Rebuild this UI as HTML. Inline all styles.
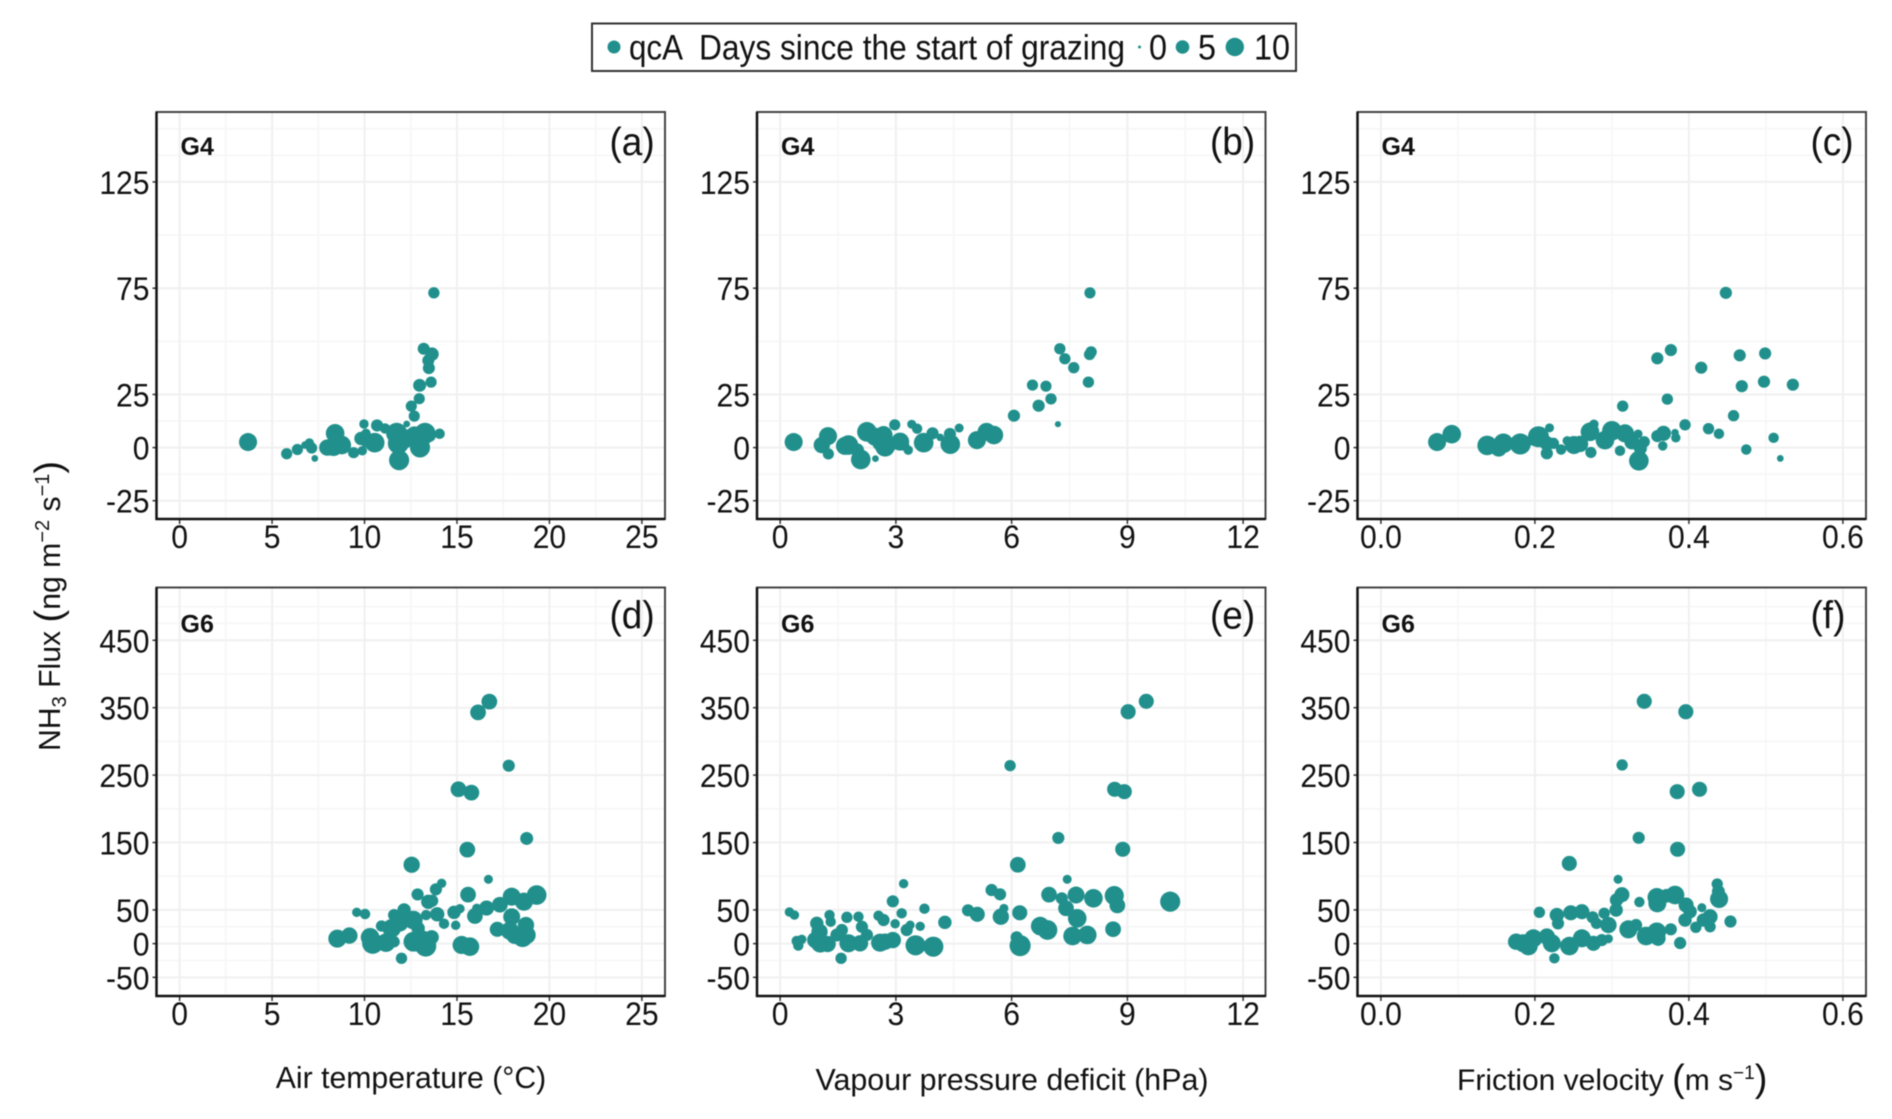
<!DOCTYPE html>
<html lang="en">
<head>
<meta charset="utf-8">
<title>NH3 flux vs. environmental drivers</title>
<style>
html,body{margin:0;padding:0;background:#fff;}
body{width:1892px;height:1119px;overflow:hidden;}
svg{display:block;font-family:"Liberation Sans",sans-serif;filter:blur(0.5px);}
text{fill:#111;}
</style>
</head>
<body>
<svg id="chart" xmlns="http://www.w3.org/2000/svg" width="1892" height="1119" viewBox="0 0 1892 1119">
  <rect x="0" y="0" width="1892" height="1119" fill="#fff"/>
  <g>
    <rect x="592" y="23.5" width="704" height="47.5" fill="#fff" stroke="#333" stroke-width="2"/>
    <circle cx="614" cy="47" r="6.5" fill="#21908c"/>
    <text x="629" y="59.5" font-size="35" textLength="54" lengthAdjust="spacingAndGlyphs">qcA</text>
    <text x="699" y="59.5" font-size="35" textLength="426" lengthAdjust="spacingAndGlyphs">Days since the start of grazing</text>
    <circle cx="1139.5" cy="47" r="1.5" fill="#21908c"/>
    <text x="1149" y="59.5" font-size="35" textLength="18" lengthAdjust="spacingAndGlyphs">0</text>
    <circle cx="1182.5" cy="47" r="6.8" fill="#21908c"/>
    <text x="1198" y="59.5" font-size="35" textLength="18" lengthAdjust="spacingAndGlyphs">5</text>
    <circle cx="1234.8" cy="47" r="9.2" fill="#21908c"/>
    <text x="1254" y="59.5" font-size="35" textLength="36" lengthAdjust="spacingAndGlyphs">10</text>
  </g>
  <text transform="translate(60,751) rotate(-90)" font-size="30.2">NH<tspan font-size="20" dy="6">3</tspan><tspan dy="-6"> Flux </tspan><tspan font-size="38" font-weight="normal" dy="1">(</tspan><tspan dy="-1">ng m</tspan><tspan font-size="20" dy="-11">−2</tspan><tspan dy="11"> s</tspan><tspan font-size="20" dy="-11">−1</tspan><tspan font-size="38" dy="12">)</tspan></text>
  <text x="411" y="1088" font-size="30.2" text-anchor="middle">Air temperature (°C)</text>
  <text x="1012" y="1090" font-size="30.4" text-anchor="middle">Vapour pressure deficit (hPa)</text>
  <text x="1457" y="1090" font-size="30">Friction velocity <tspan font-size="38" dy="1">(</tspan><tspan dy="-1">m s</tspan><tspan font-size="19" dy="-11">−1</tspan><tspan font-size="38" dy="12">)</tspan></text>
  <g id="panels"></g>
</svg>
<script>
/* tick labels */
const tempTicks = [0, 5, 10, 15, 20, 25];
const vpdTicks = [0, 3, 6, 9, 12];
const ustarTicks = [0.0, 0.2, 0.4, 0.6];
const g4Ticks = [-25, 0, 25, 75, 125];
const g6Ticks = [-50, 0, 50, 150, 250, 350, 450];
const g4Minor = [-12.5, 12.5, 50, 100, 137.5, 150];
const g6Minor = [-25, 25, 100, 200, 300, 400, 475, 500];

/* axis domains */
const tempDomain = [-1.25, 26.25];
const vpdDomain = [-0.6, 12.58];
const ustarDomain = [-0.0304, 0.63];
const g4Domain = [-33.6, 157.9];
const g6Domain = [-77.7, 528.3];

/* (a) G4 flux vs air temperature */
const aTemp = [3.7,5.79,6.37,6.78,7.02,7.14,7.31,7.99,8.41,8.32,8.77,9.41,9.88,9.97,9.81,10.08,10.12,10.55,10.68,11.11,11.74,11.83,11.87,12.28,12.46,13,13.27,13.54,14.06,12.69,12.53,12.96,12.98,13.6,13.48,13.65,13.45,13.2,13.75,12.2,12.7];
const aFlux = [2.6,-2.9,-0.9,1.2,2.3,-0.2,-5.1,0,6.7,0.4,1.2,-2.4,-1.5,11.1,4.3,6.7,3.2,2.3,10.4,9,6.7,2,-5.9,11.1,5.4,0.1,6.7,5.4,6.5,14.8,19.5,23,29.3,30.8,37.4,44,41,46.5,72.8,4,6];
const aDays = [8,2.9,2.9,1.2,1.8,2.9,0.9,6.5,8.5,8.5,8.5,2.9,2,2,4.3,2,4.3,9.5,3.5,2.5,11,11,10,0.9,5,10,11,3,2.5,2.9,2.9,2.9,4,2.9,3.4,4.3,3.4,3.4,3,8,7];

/* (b) G4 flux vs vapour pressure deficit */
const bVpd = [0.35,1.08,1.24,1.25,1.77,1.68,2.09,2,2.25,2.47,2.46,2.68,2.72,2.59,2.97,3.11,2.89,3.2,3.32,3.41,3.55,3.72,3.95,4.15,4.4,4.41,4.64,5.1,5.35,5.54,6.06,6.54,6.89,7.02,6.7,7.2,7.25,7.38,7.61,7.99,8.03,8.02,8.06];
const bFlux = [2.6,1.2,5.4,-3,1.2,0.8,-5.6,-1.2,7.4,-5.2,5.1,5.9,0.4,2,10.7,2.8,1.2,1.2,-1.2,11,8.9,2.3,6.7,4.8,6.4,1.6,9.2,3.5,7.4,5.9,15,29.4,28.9,22.9,19.7,11,46.5,41.8,37.6,30.8,72.8,43.8,45];
const bDays = [8,6.5,8,2.9,9.5,8,9.5,4.3,9.5,0.9,8,8,9.5,5.5,2.9,8,3,3,2,1.8,2.5,9.5,3.5,1.2,3.5,9.5,1.8,8,8,8.5,3.5,2.9,2.9,3,3.5,0.7,3,3,3,3,2.9,3,3];

/* (c) G4 flux vs friction velocity */
const cUstar = [0.073,0.092,0.138,0.153,0.159,0.174,0.181,0.198,0.2046,0.219,0.2155,0.2155,0.224,0.234,0.242,0.2507,0.2586,0.2727,0.2715,0.2766,0.291,0.3,0.3105,0.317,0.326,0.334,0.337,0.342,0.335,0.359,0.367,0.366,0.382,0.383,0.395,0.372,0.314,0.448,0.359,0.3766,0.416,0.466,0.499,0.4975,0.4687,0.535,0.458,0.4255,0.439,0.51,0.4745,0.5187];
const cFlux = [2.6,6.3,1,-0.4,2,1.2,1.7,3.5,5.1,9.3,2,-2.7,2,-0.9,3.2,1.2,1.7,-2.3,7.4,11,3.5,7.9,-1.5,6.7,2.7,6.4,-0.4,2.7,-6.2,5.4,6.7,0.8,7,4.6,10.7,22.8,19.5,72.8,42,45.9,37.6,43.4,44.3,31,28.9,29.6,15,8.9,6.5,4.6,-0.9,-5.1];
const cDays = [8,8.5,9.5,6.5,9.5,2.5,11,3,11,1.8,5,3.5,3,2.5,2,8,6.5,2.9,8.5,2,8.5,9.5,2.5,8,5.5,1.8,4,3,9.5,3.5,5.5,2,1.2,2,3,3,3,3.5,3.5,3.5,3.5,3.5,3.5,3.5,3.5,3.5,3,3,2.5,2.5,2.5,0.9];

/* (d) G6 flux vs air temperature */
const dTemp = [12.55,14.17,13.86,12.87,13.45,13.66,16.7,15.6,9.58,10.03,8.53,9.18,10.3,10.44,10.92,11.16,11.6,12.14,11.47,11.92,11.6,12,12.64,12.9,12.64,13.33,13.93,14.3,13.63,13.31,13.18,13,14.84,15.16,14.93,15.25,15.7,15.97,16.07,16.6,17.32,17.96,18.62,19.31,17.18,17.96,17.86,18.73,18.14,18.55,18.77,16.75,16.14,17.8,15.08,15.78,18.77,15.56];
const dFlux = [117,89.5,80.5,73,62,63.6,95.4,72.6,46.4,43.9,7.4,11.9,9.4,0.5,26.1,1.4,42.4,49.9,22.7,30,2.8,-21.8,35,22.7,2.8,42.4,43.5,29.5,9.4,-3.6,5.3,0.5,46.4,51.8,27.2,-2,-4.5,40.9,52.3,52.8,57.7,69.6,62.2,72.1,21.2,39.9,19.1,27.6,12.8,9.4,12.8,359,343,264,229,224,156,139.4];
const dDays = [6.5,2,3.5,3.5,5,3.5,1.8,6,2,2.5,8,6.5,8.5,11,3,8.5,3.5,4.3,8.5,6.5,3,3,8.5,4.3,9.5,2.5,5,2.5,5,11,8.5,8,4.3,2,2,8,8.5,6,2,5.5,6,8,8,9.5,5.5,7,8,6.5,8,9.5,8,6,6,3.5,6,6,4,6];

/* (e) G6 flux vs vapour pressure deficit */
const eVpd = [0.24,0.37,0.43,0.56,0.47,0.95,1.02,0.91,1.04,1.23,1.28,1.31,1.47,1.6,1.73,1.58,1.77,2.03,2.12,2.07,2.25,2.55,2.68,2.59,2.72,2.92,2.92,3.2,3.15,2.98,3.37,3.28,3.51,3.97,3.63,3.74,4.27,4.87,5.11,5.48,5.7,5.8,5.72,6.21,6.16,6.13,6.22,6.74,6.93,6.97,7.44,7.3,7.41,7.67,7.7,7.58,7.96,8.12,8.66,8.74,8.63,10.11,9.49,9.02,5.96,8.67,8.92,7.21,8.88];
const eFlux = [46.9,42.4,3.9,6.3,-2.9,30,17.6,5.3,0.5,-0.6,42.4,32.5,12.8,20.2,39,-21.8,0.5,39.9,25,0.5,12.8,41.4,35,1.4,2.8,5.3,62.8,88.9,45,29.5,27.6,20.2,-2.5,-4.5,25.7,51.8,31.6,49.4,43.5,79.5,73.1,52.3,39.9,45.8,117,9.4,-3,26,20.2,72.6,95.4,67.2,52.4,72.1,37.5,11.3,12.8,67.2,71.2,56.7,21.4,62.3,359.5,344,264,229,225.5,156.8,140];
const eDays = [2,2,2.5,2,2.5,4.3,6.5,6.5,8.5,6.5,2.5,2.5,4,3.5,3,3,8,2.5,3.5,6.5,3.5,2.5,3.5,8,6.5,6.5,3.5,2,2.5,2,1.8,3.5,10,10,2,2.5,4.3,3.5,5.5,3.5,3.5,1.8,6.5,5.5,6,3.5,11,8.5,9.5,6,1.8,3.5,6,7,8.5,8.5,8.5,8.5,9,6,6,10,5.5,5.5,3,5.5,5.5,3.5,5.5];

/* (f) G6 flux vs friction velocity */
const fUstar = [0.1756,0.185,0.1916,0.198,0.2058,0.2155,0.222,0.2253,0.2285,0.23,0.2466,0.2448,0.261,0.261,0.276,0.275,0.29,0.28,0.2955,0.2869,0.2955,0.3055,0.306,0.313,0.308,0.3357,0.3214,0.3314,0.3444,0.3583,0.36,0.3583,0.359,0.371,0.382,0.3765,0.3886,0.3964,0.4016,0.395,0.4168,0.409,0.4275,0.4188,0.4275,0.4368,0.4383,0.4392,0.454,0.342,0.396,0.3133,0.4138,0.3848,0.3348,0.3853,0.2447];
const fFlux = [2.8,0.5,-3.6,7.9,46.4,10.4,0.5,-21.8,42.4,30,45.8,-3.6,47.4,7.9,0.5,39,45,30,27.6,5.3,7.3,49.9,64.7,72.6,95.4,61.7,21.2,27.6,11.3,17.6,7.9,68.7,59.8,71,72.1,21.2,0.9,57.2,47.4,35,53.3,24.2,39.9,35,25,88.4,77.4,66.2,32.8,359.5,344,265,229,225.5,157,140,119];
const fDays = [6.5,8,8.5,8,3,6.5,8,2.5,5,3.5,5.5,8.5,5.5,8,5.5,3.5,3,3,6.5,3.5,1.8,4.3,4.3,5.5,1.8,2.5,8,3.5,8.5,8.5,5.5,8.5,8,4.5,8.5,3.5,3.5,5.5,4.3,4.3,1.8,3,5.5,4.3,3,3,4,8,3.5,5.5,5.5,3,5.5,5.5,3.5,5.5,5.5];

const SVGNS = 'http://www.w3.org/2000/svg';
const panelsRoot = document.getElementById('panels');
const TEAL = '#21908c';

function make(tag, parent, attrs) {
  const el = document.createElementNS(SVGNS, tag);
  for (const k in attrs) el.setAttribute(k, attrs[k]);
  parent.appendChild(el);
  return el;
}
function linear(domain, rangeA, rangeB) {
  return v => rangeA + (v - domain[0]) / (domain[1] - domain[0]) * (rangeB - rangeA);
}
function sizeScale(days) {
  return 1.12 * Math.sqrt(2 + 7.9 * days);
}
function fmt(v, digits) {
  return digits ? v.toFixed(digits) : String(v);
}
function condense(el, ratio) {
  el.setAttribute('textLength', el.getComputedTextLength() * ratio);
  el.setAttribute('lengthAdjust', 'spacingAndGlyphs');
}

function drawPanel(p) {
  const g = make('g', panelsRoot, {});
  
  
  const xs = linear(p.xDomain, p.left, p.right);
  const ys = linear(p.yDomain, p.bottom, p.top);

  // minor grid
  const minorX = p.xTicks.slice(0, -1).map((t, i) => (t + p.xTicks[i + 1]) / 2);
  minorX.forEach(v => {
    const l = make('line', g, {x1: xs(v), x2: xs(v), y1: p.top, y2: p.bottom, stroke: '#f6f6f6', 'stroke-width': 1.5});
    
    
  });
  p.yMinor.forEach(v => {
    const l = make('line', g, {x1: p.left, x2: p.right, y1: ys(v), y2: ys(v), stroke: '#f6f6f6', 'stroke-width': 1.5});
    
    
  });
  // major grid + ticks + labels
  p.xTicks.forEach(v => {
    const l = make('line', g, {x1: xs(v), x2: xs(v), y1: p.top, y2: p.bottom, stroke: '#f0f0f0', 'stroke-width': 2});
    
    
    const t = make('line', g, {x1: xs(v), x2: xs(v), y1: p.bottom, y2: p.bottom + 5, stroke: '#333', 'stroke-width': 1.5});
    
    
    const lab = make('text', g, {x: xs(v), y: p.bottom + 29, 'font-size': 32, 'text-anchor': 'middle'});
    
    
    lab.textContent = fmt(v, p.xDigits);
    condense(lab, 0.94);
  });
  p.yTicks.forEach(v => {
    const l = make('line', g, {x1: p.left, x2: p.right, y1: ys(v), y2: ys(v), stroke: '#f0f0f0', 'stroke-width': 2});
    
    
    const t = make('line', g, {x1: p.left - 4, x2: p.left, y1: ys(v), y2: ys(v), stroke: '#333', 'stroke-width': 1.5});
    
    
    const lab = make('text', g, {x: p.left - 7, y: ys(v) + 12, 'font-size': 32, 'text-anchor': 'end'});
    
    
    lab.textContent = String(v);
    condense(lab, 0.94);
  });
  // points
  p.xVals.forEach((xv, i) => {
    const c = make('circle', g, {cx: xs(xv), cy: ys(p.flux[i]), r: sizeScale(p.days[i]), fill: TEAL});
    
    
  });
  // frame
  const frame = make('rect', g, {x: p.left, y: p.top, width: p.right - p.left, height: p.bottom - p.top, fill: 'none', stroke: '#444', 'stroke-width': 2});
  
  
  const axL = make('line', g, {x1: p.left, x2: p.left, y1: p.top, y2: p.bottom + 1, stroke: '#111', 'stroke-width': 2.5});
  
  
  const axB = make('line', g, {x1: p.left - 1, x2: p.right, y1: p.bottom, y2: p.bottom, stroke: '#111', 'stroke-width': 2.5});
  
  
  // annotations
  const site = make('text', g, {x: p.left + 24, y: p.top + p.siteDy, 'font-size': 25, 'font-weight': 'bold'});
  
  
  site.textContent = p.site;
  const tag = make('text', g, {x: p.left + 453, y: p.top + p.tagDy, 'font-size': 38.5});
  
  
  tag.textContent = '(' + p.letter + ')';
  condense(tag, 0.96);
}

const colTemp = {left: 156.5, right: 665};
const colVpd = {left: 757, right: 1265.5};
const colUstar = {left: 1357.5, right: 1866};
const rowG4 = {top: 112, bottom: 519, yDomain: g4Domain, yTicks: g4Ticks, yMinor: g4Minor, site: 'G4', siteDy: 43, tagDy: 43};
const rowG6 = {top: 587.5, bottom: 996, yDomain: g6Domain, yTicks: g6Ticks, yMinor: g6Minor, site: 'G6', siteDy: 45, tagDy: 41};

drawPanel({...colTemp, ...rowG4, letter: 'a', xDomain: tempDomain, xTicks: tempTicks, xDigits: 0, xVals: aTemp, flux: aFlux, days: aDays});
drawPanel({...colVpd, ...rowG4, letter: 'b', xDomain: vpdDomain, xTicks: vpdTicks, xDigits: 0, xVals: bVpd, flux: bFlux, days: bDays});
drawPanel({...colUstar, ...rowG4, letter: 'c', xDomain: ustarDomain, xTicks: ustarTicks, xDigits: 1, xVals: cUstar, flux: cFlux, days: cDays});
drawPanel({...colTemp, ...rowG6, letter: 'd', xDomain: tempDomain, xTicks: tempTicks, xDigits: 0, xVals: dTemp, flux: dFlux, days: dDays});
drawPanel({...colVpd, ...rowG6, letter: 'e', xDomain: vpdDomain, xTicks: vpdTicks, xDigits: 0, xVals: eVpd, flux: eFlux, days: eDays});
drawPanel({...colUstar, ...rowG6, letter: 'f', xDomain: ustarDomain, xTicks: ustarTicks, xDigits: 1, xVals: fUstar, flux: fFlux, days: fDays});
</script>
</body>
</html>
